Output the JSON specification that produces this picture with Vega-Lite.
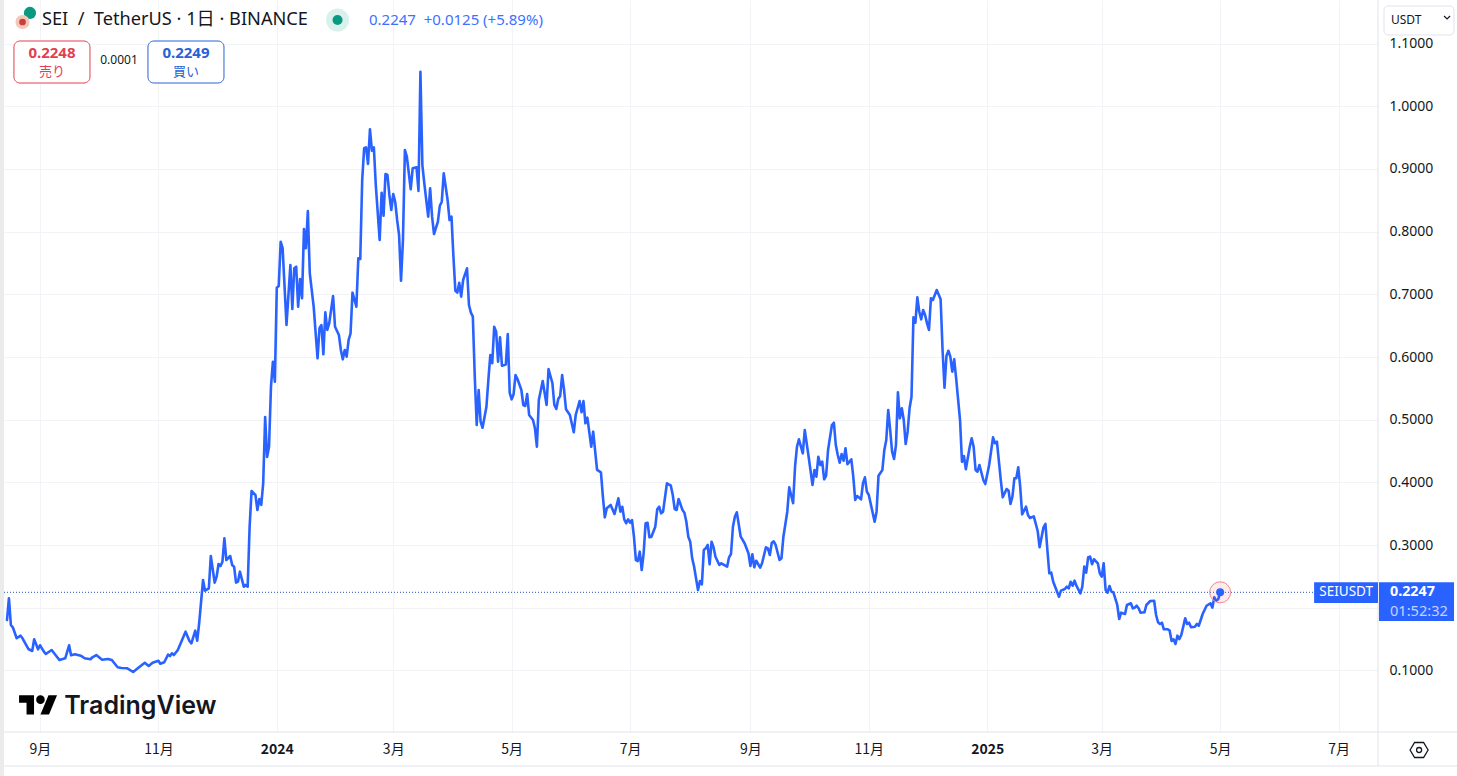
{
"$schema":"https://vega.github.io/schema/vega-lite/v6.json",
"width":1374,
"height":732,
"autosize":{"type":"none"},
"padding":{"left":4,"right":79,"top":0,"bottom":44},
"background":"#ffffff",
"config":{"view":{"stroke":null}},
"datasets":{"sei":[
{"date":"2023-08-15","price":0.1805},{"date":"2023-08-16","price":0.2152},{"date":"2023-08-17","price":0.1726},{"date":"2023-08-18","price":0.1689},{"date":"2023-08-20","price":0.1514},{"date":"2023-08-22","price":0.1555},{"date":"2023-08-23","price":0.1514},{"date":"2023-08-26","price":0.1343},{"date":"2023-08-28","price":0.1311},{"date":"2023-08-29","price":0.1498},{"date":"2023-08-31","price":0.1338},{"date":"2023-09-01","price":0.1402},{"date":"2023-09-03","price":0.13},{"date":"2023-09-04","price":0.1263},{"date":"2023-09-07","price":0.1327},{"date":"2023-09-09","price":0.1247},{"date":"2023-09-11","price":0.1167},{"date":"2023-09-14","price":0.1195},{"date":"2023-09-16","price":0.1402},{"date":"2023-09-17","price":0.1242},{"date":"2023-09-19","price":0.1258},{"date":"2023-09-22","price":0.1236},{"date":"2023-09-24","price":0.1195},{"date":"2023-09-27","price":0.1179},{"date":"2023-09-28","price":0.1211},{"date":"2023-09-30","price":0.1247},{"date":"2023-10-03","price":0.1172},{"date":"2023-10-06","price":0.1183},{"date":"2023-10-08","price":0.1167},{"date":"2023-10-11","price":0.1051},{"date":"2023-10-13","price":0.104},{"date":"2023-10-16","price":0.1035},{"date":"2023-10-19","price":0.0976},{"date":"2023-10-22","price":0.1051},{"date":"2023-10-25","price":0.1124},{"date":"2023-10-27","price":0.1072},{"date":"2023-10-29","price":0.1124},{"date":"2023-11-01","price":0.1156},{"date":"2023-11-02","price":0.1108},{"date":"2023-11-04","price":0.1131},{"date":"2023-11-06","price":0.1252},{"date":"2023-11-07","price":0.1231},{"date":"2023-11-08","price":0.1274},{"date":"2023-11-09","price":0.1247},{"date":"2023-11-11","price":0.1327},{"date":"2023-11-15","price":0.1619},{"date":"2023-11-17","price":0.147},{"date":"2023-11-18","price":0.1434},{"date":"2023-11-20","price":0.1635},{"date":"2023-11-21","price":0.1475},{"date":"2023-11-22","price":0.1753},{"date":"2023-11-24","price":0.2443},{"date":"2023-11-25","price":0.2273},{"date":"2023-11-27","price":0.2311},{"date":"2023-11-28","price":0.2826},{"date":"2023-11-30","price":0.24},
{"date":"2023-12-01","price":0.2496},{"date":"2023-12-02","price":0.2699},{"date":"2023-12-03","price":0.2667},{"date":"2023-12-04","price":0.2735},{"date":"2023-12-05","price":0.3108},{"date":"2023-12-06","price":0.2762},{"date":"2023-12-08","price":0.2826},{"date":"2023-12-09","price":0.2683},{"date":"2023-12-10","price":0.2656},{"date":"2023-12-11","price":0.24},{"date":"2023-12-12","price":0.2416},{"date":"2023-12-13","price":0.2576},{"date":"2023-12-15","price":0.2337},{"date":"2023-12-16","price":0.2364},{"date":"2023-12-17","price":0.2337},{"date":"2023-12-18","price":0.3293},{"date":"2023-12-19","price":0.3863},{"date":"2023-12-21","price":0.3799},{"date":"2023-12-22","price":0.356},{"date":"2023-12-23","price":0.3735},{"date":"2023-12-24","price":0.364},{"date":"2023-12-25","price":0.399},{"date":"2023-12-26","price":0.5043},{"date":"2023-12-27","price":0.4405},{"date":"2023-12-28","price":0.4569},{"date":"2023-12-29","price":0.5526},{"date":"2023-12-30","price":0.5925},{"date":"2023-12-31","price":0.5606},
{"date":"2024-01-01","price":0.7105},{"date":"2024-01-02","price":0.7132},{"date":"2024-01-03","price":0.7839},{"date":"2024-01-04","price":0.7738},{"date":"2024-01-06","price":0.651},{"date":"2024-01-08","price":0.7467},{"date":"2024-01-09","price":0.6766},{"date":"2024-01-10","price":0.7415},{"date":"2024-01-11","price":0.744},{"date":"2024-01-12","price":0.6802},{"date":"2024-01-13","price":0.7244},{"date":"2024-01-14","price":0.6936},{"date":"2024-01-15","price":0.8041},{"date":"2024-01-16","price":0.7734},{"date":"2024-01-17","price":0.8329},{"date":"2024-01-18","price":0.7335},{"date":"2024-01-20","price":0.6802},{"date":"2024-01-22","price":0.5979},{"date":"2024-01-23","price":0.6458},{"date":"2024-01-24","price":0.651},{"date":"2024-01-25","price":0.6043},{"date":"2024-01-26","price":0.6713},{"date":"2024-01-27","price":0.6431},{"date":"2024-01-28","price":0.6537},{"date":"2024-01-30","price":0.6973},{"date":"2024-01-31","price":0.6483},
{"date":"2024-02-02","price":0.6351},{"date":"2024-02-03","price":0.6112},{"date":"2024-02-04","price":0.5963},{"date":"2024-02-05","price":0.6112},{"date":"2024-02-06","price":0.6005},{"date":"2024-02-07","price":0.6271},{"date":"2024-02-08","price":0.6378},{"date":"2024-02-09","price":0.7026},{"date":"2024-02-11","price":0.6802},{"date":"2024-02-12","price":0.7574},{"date":"2024-02-13","price":0.7563},{"date":"2024-02-14","price":0.8823},{"date":"2024-02-15","price":0.9329},{"date":"2024-02-16","price":0.9344},{"date":"2024-02-17","price":0.9078},{"date":"2024-02-18","price":0.9632},{"date":"2024-02-19","price":0.929},{"date":"2024-02-20","price":0.9344},{"date":"2024-02-21","price":0.8743},{"date":"2024-02-23","price":0.7866},{"date":"2024-02-24","price":0.862},{"date":"2024-02-25","price":0.8254},{"date":"2024-02-26","price":0.8919},{"date":"2024-02-27","price":0.8903},{"date":"2024-02-28","price":0.8584},{"date":"2024-02-29","price":0.8344},
{"date":"2024-03-01","price":0.86},{"date":"2024-03-02","price":0.8477},{"date":"2024-03-03","price":0.8185},{"date":"2024-03-04","price":0.7946},{"date":"2024-03-05","price":0.7217},{"date":"2024-03-06","price":0.7866},{"date":"2024-03-07","price":0.9301},{"date":"2024-03-08","price":0.9195},{"date":"2024-03-10","price":0.8675},{"date":"2024-03-11","price":0.901},{"date":"2024-03-13","price":0.9026},{"date":"2024-03-14","price":0.8648},{"date":"2024-03-15","price":1.055},{"date":"2024-03-16","price":0.9062},{"date":"2024-03-17","price":0.877},{"date":"2024-03-19","price":0.8238},{"date":"2024-03-20","price":0.8691},{"date":"2024-03-21","price":0.8238},{"date":"2024-03-22","price":0.7962},{"date":"2024-03-24","price":0.8158},{"date":"2024-03-25","price":0.8413},{"date":"2024-03-26","price":0.8477},{"date":"2024-03-27","price":0.893},{"date":"2024-03-29","price":0.8504},{"date":"2024-03-30","price":0.8185},{"date":"2024-03-31","price":0.8238},
{"date":"2024-04-01","price":0.76},{"date":"2024-04-02","price":0.7057},{"date":"2024-04-03","price":0.7026},{"date":"2024-04-04","price":0.7185},{"date":"2024-04-05","price":0.6962},{"date":"2024-04-06","price":0.7228},{"date":"2024-04-08","price":0.7415},{"date":"2024-04-09","price":0.6829},{"date":"2024-04-10","price":0.6707},{"date":"2024-04-11","price":0.6643},{"date":"2024-04-12","price":0.5686},{"date":"2024-04-13","price":0.4915},{"date":"2024-04-14","price":0.5474},{"date":"2024-04-15","price":0.4968},{"date":"2024-04-16","price":0.4872},{"date":"2024-04-18","price":0.5207},{"date":"2024-04-19","price":0.5633},{"date":"2024-04-20","price":0.6032},{"date":"2024-04-21","price":0.59},{"date":"2024-04-22","price":0.6483},{"date":"2024-04-23","price":0.6404},{"date":"2024-04-24","price":0.5925},{"date":"2024-04-25","price":0.6314},{"date":"2024-04-26","price":0.5861},{"date":"2024-04-28","price":0.588},{"date":"2024-04-29","price":0.6367},{"date":"2024-04-30","price":0.5426},
{"date":"2024-05-01","price":0.5325},{"date":"2024-05-02","price":0.5407},{"date":"2024-05-03","price":0.5713},{"date":"2024-05-04","price":0.5649},{"date":"2024-05-06","price":0.5474},{"date":"2024-05-07","price":0.5234},{"date":"2024-05-08","price":0.5219},{"date":"2024-05-09","price":0.541},{"date":"2024-05-10","price":0.5075},{"date":"2024-05-12","price":0.4995},{"date":"2024-05-13","price":0.4863},{"date":"2024-05-14","price":0.4569},{"date":"2024-05-15","price":0.5314},{"date":"2024-05-17","price":0.5617},{"date":"2024-05-19","price":0.5234},{"date":"2024-05-20","price":0.5809},{"date":"2024-05-22","price":0.5581},{"date":"2024-05-23","price":0.5234},{"date":"2024-05-24","price":0.5171},{"date":"2024-05-25","price":0.533},{"date":"2024-05-26","price":0.5378},{"date":"2024-05-27","price":0.5713},{"date":"2024-05-28","price":0.5474},{"date":"2024-05-29","price":0.5166},{"date":"2024-05-31","price":0.5075},
{"date":"2024-06-02","price":0.4799},{"date":"2024-06-03","price":0.5075},{"date":"2024-06-05","price":0.5298},{"date":"2024-06-06","price":0.5118},{"date":"2024-06-07","price":0.5298},{"date":"2024-06-08","price":0.4943},{"date":"2024-06-09","price":0.5032},{"date":"2024-06-11","price":0.4569},{"date":"2024-06-12","price":0.4809},{"date":"2024-06-14","price":0.4198},{"date":"2024-06-16","price":0.4161},{"date":"2024-06-17","price":0.3772},{"date":"2024-06-18","price":0.3443},{"date":"2024-06-19","price":0.3587},{"date":"2024-06-21","price":0.364},{"date":"2024-06-23","price":0.3496},{"date":"2024-06-25","price":0.3746},{"date":"2024-06-26","price":0.3533},{"date":"2024-06-27","price":0.3612},{"date":"2024-06-28","price":0.3411},{"date":"2024-06-29","price":0.3348},{"date":"2024-06-30","price":0.3411},
{"date":"2024-07-01","price":0.3357},{"date":"2024-07-02","price":0.34},{"date":"2024-07-03","price":0.3134},{"date":"2024-07-04","price":0.2762},{"date":"2024-07-05","price":0.2746},{"date":"2024-07-06","price":0.2895},{"date":"2024-07-07","price":0.2603},{"date":"2024-07-08","price":0.2869},{"date":"2024-07-09","price":0.3348},{"date":"2024-07-10","price":0.3357},{"date":"2024-07-11","price":0.3124},{"date":"2024-07-12","price":0.3134},{"date":"2024-07-14","price":0.3293},{"date":"2024-07-15","price":0.3571},{"date":"2024-07-16","price":0.3612},{"date":"2024-07-17","price":0.3507},{"date":"2024-07-18","price":0.3533},{"date":"2024-07-20","price":0.3986},{"date":"2024-07-22","price":0.3947},{"date":"2024-07-23","price":0.3799},{"date":"2024-07-24","price":0.3576},{"date":"2024-07-25","price":0.356},{"date":"2024-07-26","price":0.3735},{"date":"2024-07-28","price":0.356},{"date":"2024-07-29","price":0.3517},{"date":"2024-07-30","price":0.3373},{"date":"2024-07-31","price":0.3134},
{"date":"2024-08-01","price":0.3054},{"date":"2024-08-02","price":0.2789},{"date":"2024-08-03","price":0.2656},{"date":"2024-08-05","price":0.2284},{"date":"2024-08-06","price":0.2427},{"date":"2024-08-07","price":0.2375},{"date":"2024-08-08","price":0.2922},{"date":"2024-08-09","price":0.2949},{"date":"2024-08-10","price":0.3002},{"date":"2024-08-11","price":0.2694},{"date":"2024-08-12","price":0.3054},{"date":"2024-08-13","price":0.2965},{"date":"2024-08-14","price":0.2815},{"date":"2024-08-16","price":0.2683},{"date":"2024-08-17","price":0.271},{"date":"2024-08-20","price":0.2656},{"date":"2024-08-21","price":0.2805},{"date":"2024-08-22","price":0.2858},{"date":"2024-08-23","price":0.3293},{"date":"2024-08-24","price":0.3453},{"date":"2024-08-25","price":0.3523},{"date":"2024-08-27","price":0.3134},{"date":"2024-08-29","price":0.3029},{"date":"2024-08-31","price":0.2869},
{"date":"2024-09-01","price":0.2667},{"date":"2024-09-02","price":0.2853},{"date":"2024-09-03","price":0.2646},{"date":"2024-09-04","price":0.2751},{"date":"2024-09-06","price":0.264},{"date":"2024-09-07","price":0.271},{"date":"2024-09-09","price":0.2965},{"date":"2024-09-10","price":0.2949},{"date":"2024-09-11","price":0.2842},{"date":"2024-09-12","price":0.3033},{"date":"2024-09-13","price":0.3061},{"date":"2024-09-14","price":0.3002},{"date":"2024-09-16","price":0.2762},{"date":"2024-09-17","price":0.2789},{"date":"2024-09-18","price":0.3134},{"date":"2024-09-20","price":0.3533},{"date":"2024-09-21","price":0.3922},{"date":"2024-09-23","price":0.3667},{"date":"2024-09-24","price":0.425},{"date":"2024-09-25","price":0.4569},{"date":"2024-09-26","price":0.4687},{"date":"2024-09-28","price":0.4464},{"date":"2024-09-29","price":0.4836},
{"date":"2024-10-01","price":0.441},{"date":"2024-10-03","price":0.3959},{"date":"2024-10-04","price":0.4198},{"date":"2024-10-05","price":0.4091},{"date":"2024-10-06","price":0.441},{"date":"2024-10-07","price":0.4278},{"date":"2024-10-08","price":0.433},{"date":"2024-10-09","price":0.4049},{"date":"2024-10-10","price":0.4107},{"date":"2024-10-11","price":0.4517},{"date":"2024-10-13","price":0.4915},{"date":"2024-10-14","price":0.4952},{"date":"2024-10-15","price":0.4596},{"date":"2024-10-16","price":0.4437},{"date":"2024-10-17","price":0.4314},{"date":"2024-10-18","price":0.4453},{"date":"2024-10-19","price":0.4346},{"date":"2024-10-20","price":0.4544},{"date":"2024-10-21","price":0.4289},{"date":"2024-10-23","price":0.4368},{"date":"2024-10-24","price":0.4091},{"date":"2024-10-25","price":0.3719},{"date":"2024-10-26","price":0.3783},{"date":"2024-10-28","price":0.373},{"date":"2024-10-29","price":0.3986},{"date":"2024-10-30","price":0.4081},{"date":"2024-10-31","price":0.3852},
{"date":"2024-11-01","price":0.3799},{"date":"2024-11-04","price":0.3373},{"date":"2024-11-05","price":0.3533},{"date":"2024-11-06","price":0.4107},{"date":"2024-11-08","price":0.4198},{"date":"2024-11-09","price":0.4517},{"date":"2024-11-10","price":0.4676},{"date":"2024-11-11","price":0.5155},{"date":"2024-11-12","price":0.4836},{"date":"2024-11-13","price":0.449},{"date":"2024-11-14","price":0.4373},{"date":"2024-11-15","price":0.4596},{"date":"2024-11-16","price":0.5437},{"date":"2024-11-17","price":0.5022},{"date":"2024-11-18","price":0.5182},{"date":"2024-11-19","price":0.4995},{"date":"2024-11-20","price":0.4612},{"date":"2024-11-21","price":0.4809},{"date":"2024-11-22","price":0.5182},{"date":"2024-11-23","price":0.5367},{"date":"2024-11-24","price":0.6633},{"date":"2024-11-25","price":0.6547},{"date":"2024-11-26","price":0.6952},{"date":"2024-11-27","price":0.6722},{"date":"2024-11-28","price":0.6601},{"date":"2024-11-29","price":0.675},{"date":"2024-11-30","price":0.667},
{"date":"2024-12-01","price":0.6537},{"date":"2024-12-02","price":0.6431},{"date":"2024-12-03","price":0.6936},{"date":"2024-12-04","price":0.6909},{"date":"2024-12-06","price":0.7069},{"date":"2024-12-08","price":0.692},{"date":"2024-12-09","price":0.6112},{"date":"2024-12-10","price":0.551},{"date":"2024-12-11","price":0.6016},{"date":"2024-12-12","price":0.61},{"date":"2024-12-13","price":0.6005},{"date":"2024-12-14","price":0.5766},{"date":"2024-12-15","price":0.5963},{"date":"2024-12-16","price":0.566},{"date":"2024-12-18","price":0.4995},{"date":"2024-12-19","price":0.433},{"date":"2024-12-20","price":0.4421},{"date":"2024-12-21","price":0.4209},{"date":"2024-12-23","price":0.4569},{"date":"2024-12-24","price":0.4703},{"date":"2024-12-25","price":0.4569},{"date":"2024-12-26","price":0.4198},{"date":"2024-12-27","price":0.4171},{"date":"2024-12-28","price":0.4278},{"date":"2024-12-30","price":0.4038},{"date":"2024-12-31","price":0.3974},
{"date":"2025-01-02","price":0.4278},{"date":"2025-01-04","price":0.4719},{"date":"2025-01-05","price":0.4624},{"date":"2025-01-06","price":0.4649},{"date":"2025-01-08","price":0.4038},{"date":"2025-01-09","price":0.3762},{"date":"2025-01-11","price":0.3895},{"date":"2025-01-12","price":0.3868},{"date":"2025-01-13","price":0.3656},{"date":"2025-01-14","price":0.3772},{"date":"2025-01-15","price":0.4065},{"date":"2025-01-16","price":0.4065},{"date":"2025-01-17","price":0.4241},{"date":"2025-01-18","price":0.3931},{"date":"2025-01-19","price":0.3491},{"date":"2025-01-21","price":0.3612},{"date":"2025-01-22","price":0.348},{"date":"2025-01-23","price":0.3432},{"date":"2025-01-25","price":0.3459},{"date":"2025-01-27","price":0.3225},{"date":"2025-01-28","price":0.2965},{"date":"2025-01-30","price":0.3284},{"date":"2025-01-31","price":0.3337},
{"date":"2025-02-01","price":0.2922},{"date":"2025-02-02","price":0.255},{"date":"2025-02-03","price":0.256},{"date":"2025-02-04","price":0.2416},{"date":"2025-02-07","price":0.2177},{"date":"2025-02-08","price":0.2273},{"date":"2025-02-10","price":0.23},{"date":"2025-02-11","price":0.2337},{"date":"2025-02-12","price":0.2311},{"date":"2025-02-13","price":0.2416},{"date":"2025-02-14","price":0.2352},{"date":"2025-02-15","price":0.2432},{"date":"2025-02-16","price":0.2348},{"date":"2025-02-18","price":0.2231},{"date":"2025-02-19","price":0.2337},{"date":"2025-02-20","price":0.2656},{"date":"2025-02-21","price":0.256},{"date":"2025-02-22","price":0.2805},{"date":"2025-02-23","price":0.2815},{"date":"2025-02-24","price":0.2694},{"date":"2025-02-25","price":0.2774},{"date":"2025-02-27","price":0.271},{"date":"2025-02-28","price":0.255},
{"date":"2025-03-01","price":0.2496},{"date":"2025-03-02","price":0.271},{"date":"2025-03-03","price":0.2284},{"date":"2025-03-04","price":0.2241},{"date":"2025-03-05","price":0.2348},{"date":"2025-03-06","price":0.2257},{"date":"2025-03-07","price":0.2247},{"date":"2025-03-09","price":0.2045},{"date":"2025-03-10","price":0.1821},{"date":"2025-03-11","price":0.1922},{"date":"2025-03-13","price":0.1901},{"date":"2025-03-14","price":0.2045},{"date":"2025-03-16","price":0.2072},{"date":"2025-03-17","price":0.1992},{"date":"2025-03-18","price":0.2002},{"date":"2025-03-19","price":0.2033},{"date":"2025-03-20","price":0.1992},{"date":"2025-03-21","price":0.1922},{"date":"2025-03-23","price":0.1928},{"date":"2025-03-24","price":0.2045},{"date":"2025-03-26","price":0.2108},{"date":"2025-03-28","price":0.2113},{"date":"2025-03-29","price":0.1885},{"date":"2025-03-30","price":0.1769},{"date":"2025-03-31","price":0.1742},
{"date":"2025-04-01","price":0.1762},{"date":"2025-04-02","price":0.1657},{"date":"2025-04-04","price":0.1657},{"date":"2025-04-05","price":0.1635},{"date":"2025-04-06","price":0.147},{"date":"2025-04-07","price":0.1498},{"date":"2025-04-08","price":0.1423},{"date":"2025-04-09","price":0.1555},{"date":"2025-04-10","price":0.1502},{"date":"2025-04-11","price":0.1566},{"date":"2025-04-13","price":0.1833},{"date":"2025-04-14","price":0.1742},{"date":"2025-04-15","price":0.1762},{"date":"2025-04-16","price":0.1689},{"date":"2025-04-18","price":0.1699},{"date":"2025-04-19","price":0.1742},{"date":"2025-04-20","price":0.1714},{"date":"2025-04-22","price":0.1901},{"date":"2025-04-24","price":0.2033},{"date":"2025-04-26","price":0.2072},{"date":"2025-04-27","price":0.2002},{"date":"2025-04-28","price":0.2167},{"date":"2025-04-29","price":0.2113},{"date":"2025-04-30","price":0.2136},{"date":"2025-05-01","price":0.2247}
]},
"encoding":{
"x":{"field":"date","type":"temporal","title":null,
"scale":{"type":"utc","domain":[{"year":2023,"month":8,"date":13,"hours":11,"utc":true},{"year":2025,"month":7,"date":21,"hours":8,"utc":true}]},
"axis":{"orient":"bottom","domain":false,"ticks":false,"grid":true,"gridColor":"#f2f3f6","gridWidth":1,"labelOverlap":false,"labelBound":false,"labelFlush":false,"labelPadding":10,"labelFontSize":14,"labelColor":"#131722","labelFont":"Noto Sans CJK JP",
"labelFontWeight":{"condition":{"test":"utcmonth(datum.value)===0","value":"bold"},"value":"normal"},
"labelExpr":"utcmonth(datum.value)===0 ? ''+utcyear(datum.value) : (utcmonth(datum.value)+1)+'月'",
"values":[{"year":2023,"month":9,"date":1,"utc":true},{"year":2023,"month":11,"date":1,"utc":true},{"year":2024,"month":1,"date":1,"utc":true},{"year":2024,"month":3,"date":1,"utc":true},{"year":2024,"month":5,"date":1,"utc":true},{"year":2024,"month":7,"date":1,"utc":true},{"year":2024,"month":9,"date":1,"utc":true},{"year":2024,"month":11,"date":1,"utc":true},{"year":2025,"month":1,"date":1,"utc":true},{"year":2025,"month":3,"date":1,"utc":true},{"year":2025,"month":5,"date":1,"utc":true},{"year":2025,"month":7,"date":1,"utc":true}]}},
"y":{"field":"price","type":"quantitative","title":null,
"scale":{"domain":[0.0019,1.1694],"nice":false,"zero":false},
"axis":{"orient":"right","domain":false,"ticks":false,"grid":true,"gridColor":"#f2f3f6","gridWidth":1,"labelExpr":"datum.value===0.2 ? '' : format(datum.value,'.4f')","labelPadding":11,"labelFontSize":14,"labelColor":"#131722","labelFont":"Noto Sans","labelBound":false,"labelFlush":false,"labelOverlap":false,"values":[0.1,0.2,0.3,0.4,0.5,0.6,0.7,0.8,0.9,1.0,1.1]}}
},
"layer":[
{"data":{"values":[{"date":"2023-08-11T10:00:00Z","date2":"2023-08-13T11:00:00Z","price":1.1694,"price2":-0.0683}],"format":{"parse":{"date":"date","date2":"date"}}},
"mark":{"type":"rect","color":"#ebebeb"},"encoding":{"x2":{"field":"date2"},"y2":{"field":"price2"}}},
{"data":{"values":[{"date":"2023-08-13T11:00:00Z","date2":"2025-08-31T01:00:00Z","price":0.0019},{"date":"2023-08-13T11:00:00Z","date2":"2025-08-31T01:00:00Z","price":-0.0523}],"format":{"parse":{"date":"date","date2":"date"}}},
"mark":{"type":"rule","color":"#e0e3eb","strokeWidth":1},"encoding":{"x2":{"field":"date2"}}},
{"data":{"values":[{"date":"2025-07-21T08:00:00Z","price":1.1694,"price2":-0.0523}],"format":{"parse":{"date":"date"}}},
"mark":{"type":"rule","color":"#e0e3eb","strokeWidth":1},"encoding":{"y2":{"field":"price2"}}},
{"data":{"values":[{"date":"2023-08-13T11:00:00Z","date2":"2025-07-21T08:00:00Z","price":0.2247}],"format":{"parse":{"date":"date","date2":"date"}}},
"mark":{"type":"rule","color":"#1f4fc4","strokeWidth":1,"strokeDash":[1,2]},"encoding":{"x2":{"field":"date2"}}},
{"data":{"name":"sei","format":{"parse":{"date":"date"}}},
"mark":{"type":"line","color":"#2962ff","strokeWidth":2.6,"strokeJoin":"round","strokeCap":"round"}},
{"data":{"values":[{"date":"2025-05-01","price":0.2247}],"format":{"parse":{"date":"date"}}},
"mark":{"type":"point","shape":"circle","filled":true,"size":441,"fill":"#f23645","fillOpacity":0.1,"stroke":"#ef8a92","strokeWidth":1,"strokeOpacity":1}},
{"data":{"values":[{"date":"2025-05-01","price":0.2247}],"format":{"parse":{"date":"date"}}},
"mark":{"type":"point","shape":"circle","filled":true,"size":64,"color":"#2962ff","opacity":1}},
{"data":{"values":[{"date":"2025-06-18T10:00:00Z","date2":"2025-07-21T08:00:00Z","price":0.2407,"price2":0.2077},{"date":"2025-07-21T20:00:00Z","date2":"2025-08-29T12:00:00Z","price":0.2407,"price2":0.1789}],"format":{"parse":{"date":"date","date2":"date"}}},
"mark":{"type":"rect","color":"#2962ff"},"encoding":{"x2":{"field":"date2"},"y2":{"field":"price2"}}},
{"data":{"values":[{"date":"2025-07-04T22:00:00Z","price":0.2245,"label":"SEIUSDT"}],"format":{"parse":{"date":"date"}}},
"mark":{"type":"text","font":"Noto Sans","fontSize":13.5,"color":"#ffffff","align":"center","baseline":"middle"},"encoding":{"text":{"field":"label"}}},
{"data":{"values":[{"date":"2025-07-27T12:00:00Z","price":0.2255,"label":"0.2247"}],"format":{"parse":{"date":"date"}}},
"mark":{"type":"text","font":"Noto Sans","fontSize":14.3,"fontWeight":"bold","color":"#ffffff","align":"left","baseline":"middle"},"encoding":{"text":{"field":"label"}}},
{"data":{"values":[{"date":"2025-07-27T12:00:00Z","price":0.1925,"label":"01:52:32"}],"format":{"parse":{"date":"date"}}},
"mark":{"type":"text","font":"Noto Sans","fontSize":14.6,"color":"#c3d3ff","align":"left","baseline":"middle"},"encoding":{"text":{"field":"label"}}},
{"data":{"values":[{"date":"2023-08-31T00:00:00Z","price":0.045,"label":"logo"}],"format":{"parse":{"date":"date"}}},
"mark":{"type":"point","filled":true,"color":"#000000","opacity":1,"size":4.58,"shape":"M-3.75 9H-10.75V-2H-17.75V-9H-3.75ZM10.25 9H2.25L9.75 -9H17.75ZM6.25 -5a4 4 0 1 0 -8 0a4 4 0 1 0 8 0Z"}},
{"data":{"values":[{"date":"2023-09-13T12:00:00Z","price":0.0435,"label":"TradingView"}],"format":{"parse":{"date":"date"}}},
"mark":{"type":"text","font":"Inter","fontSize":25,"fontWeight":600,"color":"#131722","align":"left","baseline":"middle"},"encoding":{"text":{"field":"label"}}},
{"data":{"values":[{"date":"2025-08-11T12:00:00Z","price":-0.0268}],"format":{"parse":{"date":"date"}}},
"mark":{"type":"point","filled":false,"color":"#131722","strokeWidth":1.3,"opacity":1,"size":4,"shape":"M-9 0L-4.5 -7.5H4.5L9 0L4.5 7.5H-4.5Z"}},
{"data":{"values":[{"date":"2025-08-11T12:00:00Z","price":-0.0268}],"format":{"parse":{"date":"date"}}},
"mark":{"type":"point","shape":"circle","filled":false,"color":"#131722","strokeWidth":1.3,"opacity":1,"size":25}},
{"data":{"values":[{"date":"2023-08-26T20:00:00Z","price":1.1487}],"format":{"parse":{"date":"date"}}},
"mark":{"type":"point","shape":"circle","filled":true,"color":"#089981","opacity":1,"size":150}},
{"data":{"values":[{"date":"2023-08-23T00:00:00Z","price":1.1343}],"format":{"parse":{"date":"date"}}},
"mark":{"type":"point","shape":"circle","filled":true,"color":"#f3c7b9","opacity":1,"size":200}},
{"data":{"values":[{"date":"2023-08-23T00:00:00Z","price":1.1343}],"format":{"parse":{"date":"date"}}},
"mark":{"type":"point","shape":"circle","filled":true,"color":"#c9403a","opacity":1,"size":45}},
{"data":{"values":[{"date":"2023-09-02T00:00:00Z","price":1.1375,"label":"SEI\u00a0\u00a0/\u00a0\u00a0TetherUS · 1日 · BINANCE"}],"format":{"parse":{"date":"date"}}},
"mark":{"type":"text","font":"Noto Sans, Noto Sans CJK JP","fontSize":18.2,"color":"#131722","align":"left","baseline":"middle"},"encoding":{"text":{"field":"label"}}},
{"data":{"values":[{"date":"2024-02-01T07:00:00Z","price":1.1375}],"format":{"parse":{"date":"date"}}},
"mark":{"type":"point","shape":"circle","filled":true,"color":"#089981","opacity":0.15,"size":530}},
{"data":{"values":[{"date":"2024-02-01T07:00:00Z","price":1.1375}],"format":{"parse":{"date":"date"}}},
"mark":{"type":"point","shape":"circle","filled":true,"color":"#089981","opacity":1,"size":100}},
{"data":{"values":[{"date":"2024-02-17T12:00:00Z","price":1.1375,"label":"0.2247\u00a0\u00a0+0.0125\u00a0(+5.89%)"}],"format":{"parse":{"date":"date"}}},
"mark":{"type":"text","font":"Noto Sans","fontSize":15,"color":"#2962ff","opacity":0.9,"align":"left","baseline":"middle"},"encoding":{"text":{"field":"label"}}},
{"data":{"values":[{"date":"2023-08-18T14:00:00Z","date2":"2023-09-26T18:00:00Z","price":1.104,"price2":1.037}],"format":{"parse":{"date":"date","date2":"date"}}},
"mark":{"type":"rect","fill":"#ffffff","stroke":"#e0404f","strokeWidth":1,"cornerRadius":6},"encoding":{"x2":{"field":"date2"},"y2":{"field":"price2"}}},
{"data":{"values":[{"date":"2023-10-26T15:00:00Z","date2":"2023-12-04T19:00:00Z","price":1.104,"price2":1.037}],"format":{"parse":{"date":"date","date2":"date"}}},
"mark":{"type":"rect","fill":"#ffffff","stroke":"#2962d6","strokeWidth":1,"cornerRadius":6},"encoding":{"x2":{"field":"date2"},"y2":{"field":"price2"}}},
{"data":{"values":[{"date":"2023-09-07T04:00:00Z","price":1.0848,"label":"0.2248"}],"format":{"parse":{"date":"date"}}},
"mark":{"type":"text","font":"Noto Sans","fontSize":15,"fontWeight":"bold","color":"#e0404f","align":"center","baseline":"middle"},"encoding":{"text":{"field":"label"}}},
{"data":{"values":[{"date":"2023-09-07T04:00:00Z","price":1.0545,"label":"売り"}],"format":{"parse":{"date":"date"}}},
"mark":{"type":"text","font":"Noto Sans CJK JP","fontSize":13,"color":"#e0404f","align":"center","baseline":"middle"},"encoding":{"text":{"field":"label"}}},
{"data":{"values":[{"date":"2023-10-11T17:00:00Z","price":1.0737,"label":"0.0001"}],"format":{"parse":{"date":"date"}}},
"mark":{"type":"text","font":"Noto Sans","fontSize":12,"color":"#131722","align":"center","baseline":"middle"},"encoding":{"text":{"field":"label"}}},
{"data":{"values":[{"date":"2023-11-15T05:00:00Z","price":1.0848,"label":"0.2249"}],"format":{"parse":{"date":"date"}}},
"mark":{"type":"text","font":"Noto Sans","fontSize":15,"fontWeight":"bold","color":"#2962d6","align":"center","baseline":"middle"},"encoding":{"text":{"field":"label"}}},
{"data":{"values":[{"date":"2023-11-15T05:00:00Z","price":1.0545,"label":"買い"}],"format":{"parse":{"date":"date"}}},
"mark":{"type":"text","font":"Noto Sans CJK JP","fontSize":13,"color":"#2962d6","align":"center","baseline":"middle"},"encoding":{"text":{"field":"label"}}},
{"data":{"values":[{"date":"2025-07-24T10:00:00Z","date2":"2025-08-29T12:00:00Z","price":1.1598,"price2":1.1136}],"format":{"parse":{"date":"date","date2":"date"}}},
"mark":{"type":"rect","fill":"#ffffff","stroke":"#e0e3eb","strokeWidth":1,"cornerRadius":4},"encoding":{"x2":{"field":"date2"},"y2":{"field":"price2"}}},
{"data":{"values":[{"date":"2025-07-28T00:00:00Z","price":1.1375,"label":"USDT"}],"format":{"parse":{"date":"date"}}},
"mark":{"type":"text","font":"Noto Sans","fontSize":12,"color":"#131722","align":"left","baseline":"middle"},"encoding":{"text":{"field":"label"}}},
{"data":{"values":[{"date":"2025-08-25T22:00:00Z","price":1.1415}],"format":{"parse":{"date":"date"}}},
"mark":{"type":"point","filled":false,"color":"#131722","strokeWidth":1.2,"opacity":1,"size":4,"shape":"M-3 -1.5L0 1.5L3 -1.5"}}
]
}
